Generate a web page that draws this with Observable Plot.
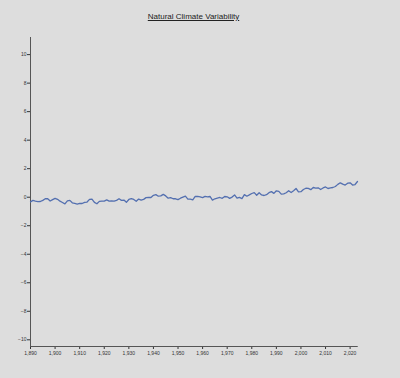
<!DOCTYPE html>
<html>
<head>
<meta charset="utf-8">
<script src="https://cdn.jsdelivr.net/npm/d3@7"></script>
<script src="https://cdn.jsdelivr.net/npm/@observablehq/plot@0.6"></script>
<style>
  html, body { margin: 0; padding: 0; background: #dddddd; }
  #wrap { width: 400px; height: 378px; position: relative; background: #dddddd; font-family: "Liberation Sans", Arial, sans-serif; }
  #title { position: absolute; left: 30px; width: 327px; top: 12px; text-align: center; font-size: 8px; color: #222; text-decoration: underline; }
  #chart { position: absolute; left: 0; top: 30px; }
</style>
</head>
<body>
<div id="wrap">
  <div id="title">Natural Climate Variability</div>
  <div id="chart"></div>
</div>
<script>
const title = "Natural Climate Variability";
const startYear = 1890;
const anomalies = [
  -0.33, -0.22, -0.27, -0.31, -0.30, -0.22, -0.11, -0.11, -0.27, -0.17,
  -0.08, -0.15, -0.28, -0.37, -0.47, -0.26, -0.22, -0.39, -0.43, -0.48,
  -0.43, -0.44, -0.36, -0.34, -0.15, -0.14, -0.36, -0.46, -0.29, -0.27,
  -0.27, -0.19, -0.28, -0.26, -0.27, -0.22, -0.11, -0.22, -0.20, -0.36,
  -0.16, -0.10, -0.16, -0.29, -0.13, -0.20, -0.15, -0.03, -0.01, -0.02,
   0.13,  0.18,  0.07,  0.09,  0.20,  0.09, -0.07, -0.03, -0.11, -0.11,
  -0.17, -0.07,  0.01,  0.08, -0.13, -0.14, -0.19,  0.05,  0.06,  0.03,
  -0.03,  0.06,  0.03,  0.05, -0.20, -0.11, -0.06, -0.02, -0.08,  0.05,
   0.03, -0.08,  0.01,  0.16, -0.07, -0.01, -0.10,  0.18,  0.07,  0.16,
   0.26,  0.32,  0.14,  0.31,  0.16,  0.12,  0.18,  0.32,  0.39,  0.27,
   0.45,  0.41,  0.22,  0.23,  0.31,  0.45,  0.33,  0.46,  0.61,  0.38,
   0.39,  0.54,  0.63,  0.62,  0.53,  0.68,  0.64,  0.66,  0.54,  0.65,
   0.72,  0.61,  0.65,  0.68,  0.75,  0.90,  1.01,  0.92,  0.85,  0.98,
   1.01,  0.85,  0.89,  1.10
];
const years = anomalies.map((_, i) => startYear + i);
const xTicks = [1890, 1900, 1910, 1920, 1930, 1940, 1950, 1960, 1970, 1980, 1990, 2000, 2010, 2020];
const yTicks = [-10, -8, -6, -4, -2, 0, 2, 4, 6, 8, 10];

const data = years.map((year, i) => ({year, value: anomalies[i]}));
const yMin = -10.47, yMax = 11.2;

const chart = Plot.plot({
  width: 400,
  height: 348,
  marginTop: 7,
  marginBottom: 32,
  marginLeft: 30,
  marginRight: 43,
  style: { background: "transparent", fontSize: "5px", fontFamily: "'Liberation Sans', Arial, sans-serif", color: "#333" },
  x: { domain: [1890, 2023] },
  y: { domain: [yMin, yMax] },
  marks: [
    Plot.axisY({ ticks: yTicks, tickSize: 3, tickPadding: 1, label: null, tickFormat: d3.format("") }),
    Plot.axisX({ ticks: xTicks, tickSize: 3, tickPadding: 2, label: null, tickFormat: d3.format(",") }),
    Plot.ruleX([1890], { y1: yMin, y2: yMax, stroke: "#555", strokeWidth: 1 }),
    Plot.ruleY([yMin], { x1: 1890, x2: 2023.3, stroke: "#555", strokeWidth: 1 }),
    Plot.line(data, { x: "year", y: "value", stroke: "#5470b0", strokeWidth: 1.3 })
  ]
});
document.getElementById("chart").appendChild(chart);
</script>
</body>
</html>
